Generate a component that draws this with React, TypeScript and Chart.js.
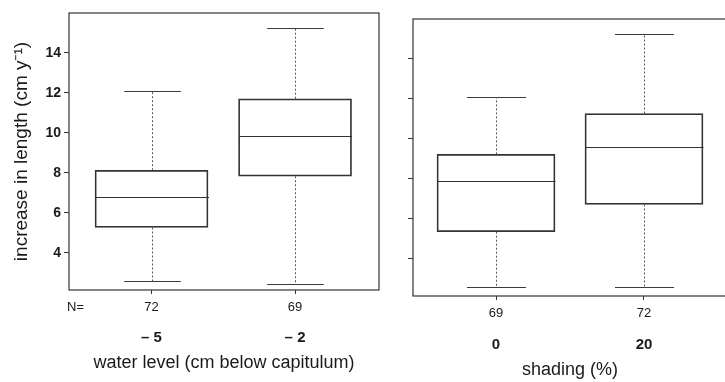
import React, { useEffect, useRef } from 'react';
import { Chart, registerables } from 'chart.js';

Chart.register(...registerables);

const FONT = '"Liberation Sans", Arial, Helvetica, sans-serif';
const INK = '#1a1a1a';
const LINE = '#333333';

// shared y axis
const yTickValues = [4, 6, 8, 10, 12, 14];
const yMin = 2.15;
const yMax = 15.98;

// panel A: water level
const waterGroups = ['– 5', '– 2'];
const waterN = ['72', '69'];
const waterMin = [2.58, 2.45];
const waterQ1 = [5.27, 7.83];
const waterMedian = [6.77, 9.83];
const waterQ3 = [8.13, 11.7];
const waterMax = [12.1, 15.23];

// panel B: shading
const shadeGroups = ['0', '20'];
const shadeN = ['69', '72'];
const shadeMin = [2.6, 2.59];
const shadeQ1 = [5.36, 6.72];
const shadeMedian = [7.9, 9.6];
const shadeQ3 = [9.22, 11.26];
const shadeMax = [12.09, 15.25];

const N_PAD = 6;

const boxPlugin = {
  id: 'boxWhiskers',
  afterDatasetsDraw(chart: any, _args: any, opts: any) {
    const { ctx } = chart;
    const y = chart.scales.y;
    const meta = chart.getDatasetMeta(0);
    ctx.save();
    meta.data.forEach((bar: any, i: number) => {
      const cx = Math.round(bar.x) + 0.5;
      const halfW = bar.width / 2;
      const capHalf = bar.width / 4;
      const pMed = Math.round(y.getPixelForValue(opts.median[i])) + 0.5;
      const pQ1 = y.getPixelForValue(opts.q1[i]);
      const pQ3 = y.getPixelForValue(opts.q3[i]);
      const pMin = Math.round(y.getPixelForValue(opts.min[i])) + 0.5;
      const pMax = Math.round(y.getPixelForValue(opts.max[i])) + 0.5;
      // median
      ctx.setLineDash([]);
      ctx.strokeStyle = LINE;
      ctx.lineWidth = 1;
      ctx.beginPath();
      ctx.moveTo(cx - halfW, pMed);
      ctx.lineTo(cx + halfW, pMed);
      ctx.stroke();
      // caps
      ctx.lineWidth = 1.2;
      ctx.strokeStyle = '#3a3a3a';
      ctx.beginPath();
      ctx.moveTo(cx - capHalf, pMax);
      ctx.lineTo(cx + capHalf, pMax);
      ctx.moveTo(cx - capHalf, pMin);
      ctx.lineTo(cx + capHalf, pMin);
      ctx.stroke();
      // dotted whiskers
      ctx.setLineDash([2, 2]);
      ctx.lineWidth = 1;
      ctx.strokeStyle = '#555';
      ctx.beginPath();
      ctx.moveTo(cx, pQ3);
      ctx.lineTo(cx, pMax);
      ctx.moveTo(cx, pQ1);
      ctx.lineTo(cx, pMin);
      ctx.stroke();
    });
    ctx.restore();
  },
  afterDraw(chart: any, _args: any, opts: any) {
    const { ctx, chartArea } = chart;
    ctx.save();
    ctx.setLineDash([]);
    ctx.strokeStyle = LINE;
    ctx.lineWidth = 1.2;
    ctx.strokeRect(chartArea.left, chartArea.top, chartArea.right - chartArea.left, chartArea.bottom - chartArea.top);
    if (opts.nPrefix) {
      const sx = chart.scales.x;
      ctx.fillStyle = INK;
      ctx.font = '13px ' + FONT;
      ctx.textAlign = 'left';
      ctx.textBaseline = 'middle';
      ctx.fillText(opts.nPrefix, chartArea.left - 2, sx.top + 4 + N_PAD + 7.8);
    }
    ctx.restore();
  },
};

function makeConfig(p: any) {
  const idxTicks = (s: any) => {
    s.ticks = p.nLabels.map((_: string, i: number) => ({ value: i + 1 }));
  };
  return {
    type: 'bar',
    data: {
      datasets: [
        {
          data: p.q1.map((q: number, i: number) => ({ x: i + 1, y: [q, p.q3[i]] })),
          backgroundColor: 'rgba(255,255,255,0)',
          borderColor: LINE,
          borderWidth: 1.1,
          borderSkipped: false,
          barThickness: p.boxWidth,
        },
      ],
    },
    options: {
      responsive: false,
      animation: false,
      devicePixelRatio: 1,
      layout: { padding: p.padding },
      plugins: {
        legend: { display: false },
        tooltip: { enabled: false },
        boxWhiskers: {
          min: p.min,
          q1: p.q1,
          median: p.median,
          q3: p.q3,
          max: p.max,
          nPrefix: p.nPrefix,
        },
      },
      scales: {
        x: {
          type: 'linear',
          position: 'bottom',
          weight: 1,
          offset: false,
          min: p.xMin,
          max: p.xMax,
          afterBuildTicks: idxTicks,
          afterFit: (s: any) => {
            s.height = 28;
          },
          grid: { offset: false, drawOnChartArea: false, drawTicks: true, tickLength: 4, color: LINE },
          border: { display: false },
          ticks: {
            autoSkip: false,
            maxRotation: 0,
            padding: N_PAD,
            color: INK,
            font: { family: FONT, size: 13 },
            callback: (_v: any, i: number) => p.nLabels[i],
          },
        },
        x2: {
          type: 'linear',
          position: 'bottom',
          weight: 2,
          offset: false,
          min: p.xMin,
          max: p.xMax,
          afterBuildTicks: idxTicks,
          afterFit: (s: any) => {
            s.height = p.x2Height;
          },
          grid: { display: false, drawTicks: false, tickLength: 0, offset: false },
          border: { display: false },
          ticks: {
            autoSkip: false,
            maxRotation: 0,
            padding: p.groupPad,
            color: INK,
            font: { family: FONT, size: 15, weight: 'bold' },
            callback: (_v: any, i: number) => p.groups[i],
          },
          title: {
            display: true,
            text: p.xTitle,
            color: INK,
            font: { family: FONT, size: 18 },
            padding: { top: 0, bottom: p.xTitlePad },
          },
        },
        y: {
          type: 'linear',
          min: yMin,
          max: yMax,
          afterBuildTicks: (s: any) => {
            s.ticks = yTickValues.map((v) => ({ value: v }));
          },
          afterFit: (s: any) => {
            s.width = p.yWidth;
          },
          grid: { drawOnChartArea: false, drawTicks: true, tickLength: 5, color: LINE },
          border: { display: false },
          ticks: {
            display: p.showYLabels,
            padding: 3,
            color: INK,
            font: { family: FONT, size: 14, weight: 'bold' },
          },
          title: {
            display: !!p.yTitle,
            text: p.yTitle || '',
            color: INK,
            font: { family: FONT, size: 19 },
            padding: { top: 10, bottom: 0 },
          },
        },
      },
    },
    plugins: [boxPlugin],
  };
}

export default function App() {
  const refA = useRef<HTMLCanvasElement>(null);
  const refB = useRef<HTMLCanvasElement>(null);

  useEffect(() => {
    const a = new Chart(
      refA.current as HTMLCanvasElement,
      makeConfig({
        nLabels: waterN,
        groups: waterGroups,
        min: waterMin,
        q1: waterQ1,
        median: waterMedian,
        q3: waterQ3,
        max: waterMax,
        xMin: 0.425,
        xMax: 2.585,
        boxWidth: 113,
        padding: { left: 0, top: 13, right: 2, bottom: 0 },
        yWidth: 69,
        x2Height: 64,
        groupPad: 11,
        xTitle: 'water level (cm below capitulum)',
        xTitlePad: 8,
        yTitle: 'increase in length (cm y⁻¹)',
        showYLabels: true,
        nPrefix: 'N=',
      }) as any
    );
    const b = new Chart(
      refB.current as HTMLCanvasElement,
      makeConfig({
        nLabels: shadeN,
        groups: shadeGroups,
        min: shadeMin,
        q1: shadeQ1,
        median: shadeMedian,
        q3: shadeQ3,
        max: shadeMax,
        xMin: 0.439,
        xMax: 2.561,
        boxWidth: 118,
        padding: { left: 0, top: 19, right: 3, bottom: 0 },
        yWidth: 73,
        x2Height: 58,
        groupPad: 12,
        xTitle: 'shading (%)',
        xTitlePad: 1,
        yTitle: '',
        showYLabels: false,
        nPrefix: '',
      }) as any
    );
    return () => {
      a.destroy();
      b.destroy();
    };
  }, []);

  return (
    <div
      style={{
        position: 'fixed',
        left: 0,
        top: 0,
        width: 725,
        height: 382,
        overflow: 'hidden',
        background: '#ffffff',
      }}
    >
      <canvas ref={refA} width={381} height={382} style={{ position: 'absolute', left: 0, top: 0 }} />
      <canvas ref={refB} width={390} height={382} style={{ position: 'absolute', left: 340, top: 0 }} />
    </div>
  );
}
